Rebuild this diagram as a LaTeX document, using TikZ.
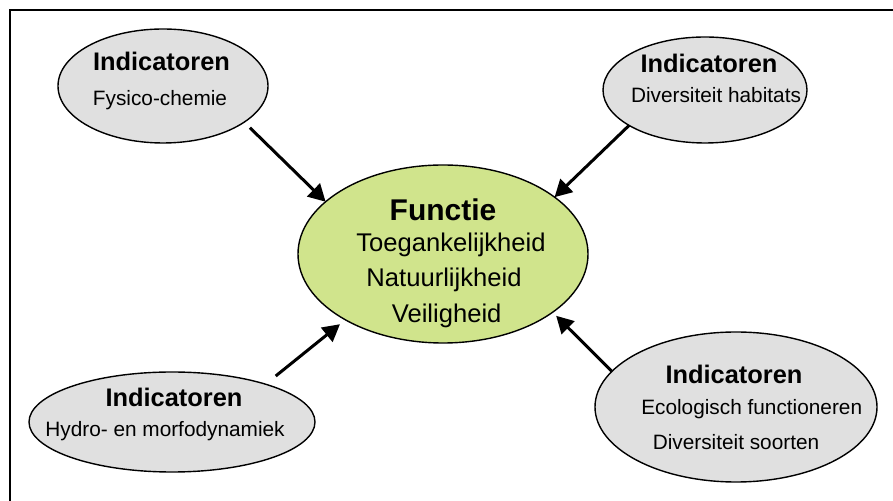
\documentclass[tikz,border=0pt]{standalone}
\usepackage{fontspec}
\setmainfont{Liberation Sans}
\usetikzlibrary{shapes.geometric,arrows.meta}
\definecolor{indfill}{RGB}{224,224,224}
\definecolor{funcfill}{RGB}{208,228,140}
\tikzset{
  bubble/.style={ellipse, draw=black, line width=1.4pt, inner sep=0pt, outer sep=0pt},
  indbubble/.style={bubble, fill=indfill},
  funcbubble/.style={bubble, fill=funcfill},
  txt/.style={anchor=base, inner sep=0pt, outer sep=0pt},
  indtitle/.style={txt, font=\fontsize{25.4}{28}\selectfont\bfseries},
  indline/.style={txt, font=\fontsize{20.8}{24}\selectfont},
  functitle/.style={txt, font=\fontsize{30}{34}\selectfont\bfseries},
  funcline/.style={txt, font=\fontsize{25.6}{29}\selectfont},
  influence/.style={line width=3pt, -{Triangle[length=17pt,width=18pt]}},
}
\begin{document}
\begin{tikzpicture}[x=1pt,y=1pt]
  \useasboundingbox (0,0) rectangle (893,500);
  % outer frame
  \draw[line width=2pt] (10,490) rectangle (905,-10);

  % bubbles
  \node[funcbubble, minimum width=290pt, minimum height=178pt] (func) at (443,246) {};
  \node[indbubble, minimum width=210pt, minimum height=114pt] (fys) at (163,414) {};
  \node[indbubble, minimum width=204pt, minimum height=106pt] (hab) at (705,410) {};
  \node[indbubble, minimum width=286pt, minimum height=100pt] (hydro) at (172,78) {};
  \node[indbubble, minimum width=282pt, minimum height=150pt] (eco) at (736,93) {};

  % texts of the central bubble
  \node[functitle] (fT) at (443,279) {Functie};
  \node[funcline] (f1) at (451,248.3) {Toegankelijkheid};
  \node[funcline] (f2) at (444,213.3) {Natuurlijkheid};
  \node[funcline] (f3) at (446.7,177) {Veiligheid};

  % texts of the indicator bubbles
  \node[indtitle] (fysT) at (161.5,429) {Indicatoren};
  \node[indline] (fys1) at (160,394) {Fysico-chemie};
  \node[indtitle] (habT) at (709,427.3) {Indicatoren};
  \node[indline] (hab1) at (716,397) {Diversiteit habitats};
  \node[indtitle] (hydroT) at (174,93) {Indicatoren};
  \node[indline] (hydro1) at (165,63) {Hydro- en morfodynamiek};
  \node[indtitle] (ecoT) at (734,116.7) {Indicatoren};
  \node[indline] (eco1) at (751.7,85) {Ecologisch functioneren};
  \node[indline] (eco2) at (736,50) {Diversiteit soorten};

  % influence arrows, starting a little off the indicator bubbles
  \draw[influence, shorten <=8pt] (fys.-24) -- (func.156.6);
  \draw[influence] (hab.-155.6) -- (func.27.6);
  \draw[influence, shorten <=13pt, shorten >=7pt] (hydro.22.5) -- (func.-146);
  \draw[influence, shorten >=5pt] (eco.164.1) -- (func.-28.75);
\end{tikzpicture}
\end{document}
